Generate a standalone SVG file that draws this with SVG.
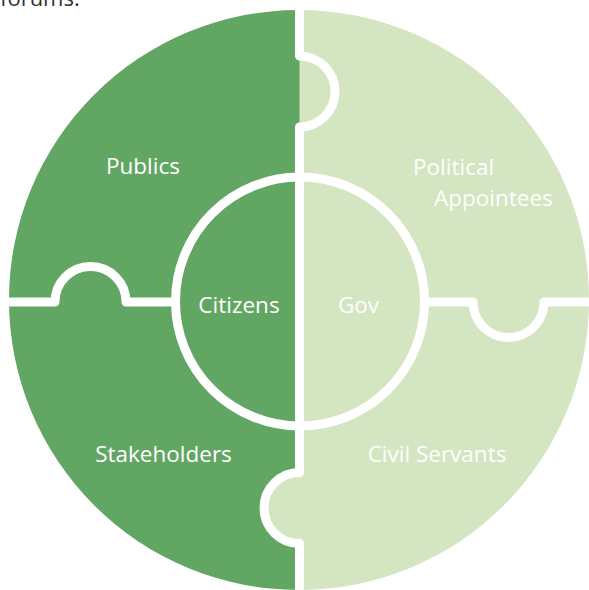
<svg xmlns="http://www.w3.org/2000/svg" width="589" height="590" viewBox="0 0 589 590">
<style>
.dark{fill:#62a664}
.light{fill:#d4e5c1}
.line{fill:none;stroke:#ffffff;stroke-width:9;stroke-linejoin:round;stroke-linecap:butt}
.lbl{font-family:"Open Sans","Noto Sans",sans-serif;font-size:22.5px;fill:#ffffff}
</style>
<defs>
<clipPath id="disc"><circle cx="299" cy="300" r="290"/></clipPath>
</defs>
<rect width="589" height="590" fill="#ffffff"/>
<text x="0" y="6" style="font-family:'Open Sans','Noto Sans',sans-serif;font-size:22px;fill:#333333">forums.</text>
<g clip-path="url(#disc)">
<g id="publics">
<rect class="dark" x="0" y="0" width="299.5" height="302"/>
<circle class="dark" cx="299.5" cy="91.5" r="35"/>
</g>
<g id="political-appointees">
<rect class="light" x="299.5" y="0" width="300" height="302"/>
</g>
<g id="stakeholders">
<rect class="dark" x="0" y="302" width="299.5" height="300"/>
</g>
<g id="civil-servants">
<rect class="light" x="299.5" y="302" width="300" height="300"/>
<circle class="light" cx="299.5" cy="508" r="35"/>
</g>
<g id="connectors">
<path class="line" d="M299.5 -5 L299.5 56 A35.5 35.5 0 0 1 299.5 127 L299.5 472.5 A35.5 35.5 0 0 0 299.5 543.5 L299.5 600"/>
<path class="line" d="M-5 302 L55 302 A35.5 35.5 0 0 1 126 302 L180 302"/>
<path class="line" d="M420 302 L473 302 A35.5 35.5 0 0 0 544 302 L600 302"/>
<circle class="line" cx="300" cy="301.5" r="124.5"/>
</g>
</g>
<g id="citizens"><text class="lbl" x="239" y="313" text-anchor="middle">Citizens</text></g>
<g id="gov"><text class="lbl" x="358.5" y="313" text-anchor="middle">Gov</text></g>
<g id="publics-label"><text class="lbl" x="143" y="174" text-anchor="middle">Publics</text></g>
<g id="political-appointees-label"><text class="lbl" x="413" y="175">Political</text><text class="lbl" x="434" y="206">Appointees</text></g>
<g id="stakeholders-label"><text class="lbl" x="163.5" y="462" text-anchor="middle">Stakeholders</text></g>
<g id="civil-servants-label"><text class="lbl" x="437" y="462" text-anchor="middle">Civil Servants</text></g>
</svg>
